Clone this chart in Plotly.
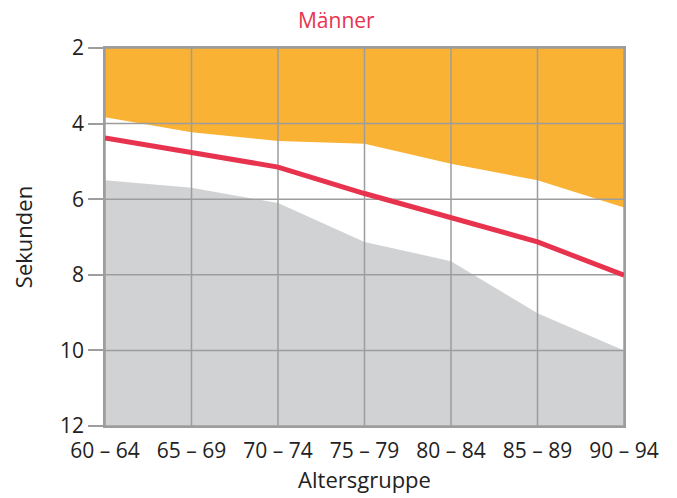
import plotly.graph_objects as go

categories = ["60 – 64", "65 – 69", "70 – 74", "75 – 79", "80 – 84", "85 – 89", "90 – 94"]
upper_bound = [3.83, 4.23, 4.46, 4.53, 5.06, 5.50, 6.22]
median_line = [4.38, 4.78, 5.15, 5.85, 6.49, 7.13, 8.01]
lower_bound = [5.50, 5.70, 6.10, 7.13, 7.64, 9.02, 10.0]
y_ticks = [2, 4, 6, 8, 10, 12]
y_min, y_max = 2, 12

ORANGE = "#F9B233"
GREY = "#D1D2D4"
RED = "#E8334F"
GRID = "#9D9D9D"
FONT = "Open Sans"

xs = list(range(len(categories)))
fig = go.Figure()

# orange band: top of axis down to upper bound
fig.add_trace(go.Scatter(x=xs, y=[y_min] * len(xs), mode="lines",
                         line=dict(width=0, color=ORANGE), hoverinfo="skip", showlegend=False))
fig.add_trace(go.Scatter(x=xs, y=upper_bound, mode="lines", fill="tonexty",
                         fillcolor=ORANGE, line=dict(width=0, color=ORANGE), showlegend=False))
# grey band: lower bound down to bottom of axis
fig.add_trace(go.Scatter(x=xs, y=lower_bound, mode="lines",
                         line=dict(width=0, color=GREY), showlegend=False))
fig.add_trace(go.Scatter(x=xs, y=[y_max] * len(xs), mode="lines", fill="tonexty",
                         fillcolor=GREY, line=dict(width=0, color=GREY), hoverinfo="skip", showlegend=False))

# grid lines drawn above fills
for x in xs:
    fig.add_trace(go.Scatter(x=[x, x], y=[y_min, y_max], mode="lines",
                             line=dict(width=1.5, color=GRID), hoverinfo="skip", showlegend=False))
for y in y_ticks:
    fig.add_trace(go.Scatter(x=[xs[0], xs[-1]], y=[y, y], mode="lines",
                             line=dict(width=1.5, color=GRID), hoverinfo="skip", showlegend=False))

fig.add_trace(go.Scatter(x=xs, y=median_line, mode="lines",
                         line=dict(width=5, color=RED), showlegend=False))

fig.update_layout(
    width=677, height=498,
    margin=dict(l=97, r=61, t=40, b=80),
    paper_bgcolor="white", plot_bgcolor="white",
    font=dict(family=FONT, size=20, color="#222222"),
    title=dict(text="Männer", x=0.485, xref="container", xanchor="center",
               y=1.0, yanchor="top", pad=dict(t=5, b=0),
               font=dict(family=FONT, size=21, color=RED)),
)
fig.update_xaxes(
    range=[xs[0], xs[-1]], tickvals=xs, ticktext=categories, automargin=False,
    showgrid=False, zeroline=False, showline=True, mirror=True,
    linecolor=GRID, linewidth=1.5, ticks="", ticklabelstandoff=5,
    tickfont=dict(size=21),
    title=dict(text="Altersgruppe", standoff=7, font=dict(size=22)),
)
fig.update_yaxes(
    range=[y_max, y_min], tickvals=y_ticks, automargin=False,
    showgrid=False, zeroline=False, showline=True, mirror=True,
    linecolor=GRID, linewidth=1.5, ticks="outside", ticklen=15, tickcolor=GRID, tickwidth=1.5,
    tickfont=dict(size=21),
    title=dict(text="Sekunden", standoff=26, font=dict(size=22)),
)

fig.write_html("out.html")
